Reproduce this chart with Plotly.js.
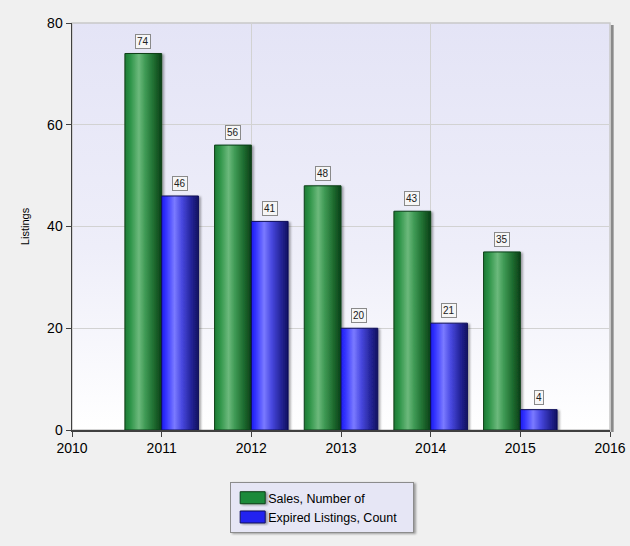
<!DOCTYPE html>
<html>
<head>
<meta charset="utf-8">
<script src="https://cdn.plot.ly/plotly-3.0.1.min.js"></script>
<style>
html,body{margin:0;padding:0;background:#f0f0f0;}
#chart{width:630px;height:546px;}
</style>
</head>
<body>
<div id="chart"></div>
<script>
const years = [2011, 2012, 2013, 2014, 2015];
const salesValues = [74, 56, 48, 43, 35];
const expiredValues = [46, 41, 20, 21, 4];
const seriesNames = ["Sales, Number of", "Expired Listings, Count"];
const xTickValues = [2010, 2011, 2012, 2013, 2014, 2015, 2016];
const xGridValues = [2012, 2014];
const yTickValues = [0, 20, 40, 60, 80];

const FONT = "Liberation Sans, Arial, sans-serif";

const traces = [
  {type: "scatter", mode: "markers", x: xGridValues, y: xGridValues.map(() => 0),
   xaxis: "x2", yaxis: "y", marker: {opacity: 0, size: 1}, showlegend: false, hoverinfo: "none"},
  {type: "bar", name: seriesNames[0], x: years, y: salesValues,
   marker: {color: "#1a8a3a", line: {color: "#0b3f18", width: 1}}, hoverinfo: "none"},
  {type: "bar", name: seriesNames[1], x: years, y: expiredValues,
   marker: {color: "#2323f0", line: {color: "#10105a", width: 1}}, hoverinfo: "none"}
];

const annotations = [];
years.forEach((yr, i) => {
  [[salesValues, -0.205], [expiredValues, 0.205]].forEach(([arr, off]) => {
    annotations.push({
      x: yr + off, y: arr[i], xref: "x", yref: "y",
      text: String(arr[i]), showarrow: false, yanchor: "bottom", yshift: 5,
      font: {family: FONT, size: 10, color: "#202020"},
      bgcolor: "#f6f6f6", bordercolor: "#8a8a8a", borderwidth: 1, borderpad: 1
    });
  });
});

const layout = {
  width: 630, height: 546,
  margin: {l: 72, r: 20, t: 23, b: 116},
  paper_bgcolor: "#f0f0f0",
  plot_bgcolor: "rgba(0,0,0,0)",
  barmode: "group", bargap: 0.18, bargroupgap: 0,
  font: {family: FONT, size: 14, color: "#000"},
  xaxis: {
    range: [2010, 2016], tickvals: xTickValues, ticktext: xTickValues.map(String),
    showgrid: false,
    showline: true, linecolor: "#404040", linewidth: 1.5,
    ticks: "outside", ticklen: 5, tickcolor: "#404040",
    tickfont: {family: FONT, size: 14}, zeroline: false, fixedrange: true
  },
  xaxis2: {
    overlaying: "x", range: [2010, 2016], tickvals: xGridValues,
    showgrid: true, gridcolor: "#d2d2d2", gridwidth: 1,
    showticklabels: false, ticks: "", showline: false, zeroline: false
  },
  yaxis: {
    range: [0, 80], tickvals: yTickValues,
    showgrid: true, gridcolor: "#d2d2d2", gridwidth: 1,
    showline: true, linecolor: "#404040", linewidth: 1.5,
    ticks: "outside", ticklen: 5, tickcolor: "#404040",
    tickfont: {family: FONT, size: 14}, zeroline: false,
    title: {text: "Listings", font: {family: FONT, size: 11}, standoff: 15}
  },
  showlegend: true,
  legend: {
    x: 0.294, y: -0.128, xanchor: "left", yanchor: "top",
    bgcolor: "#e6e6f5", bordercolor: "#8c8c8c", borderwidth: 1,
    font: {family: FONT, size: 12.5}, traceorder: "normal",
    itemwidth: 30, tracegroupgap: 0
  },
  shapes: [
    {type: "line", xref: "paper", yref: "paper", x0: 1.004, x1: 1.004, y0: -0.005, y1: 0.995,
     line: {color: "#8a8a8a", width: 3}, layer: "below"},
    {type: "rect", xref: "paper", yref: "paper", x0: 0, x1: 1, y0: 0, y1: 1,
     line: {color: "#c8c8c8", width: 1.5}, layer: "below"}
  ],
  annotations: annotations
};

Plotly.newPlot("chart", traces, layout, {displayModeBar: false, staticPlot: true}).then(gd => {
  const svg = gd.querySelector("svg.main-svg");
  const ns = "http://www.w3.org/2000/svg";
  let defs = svg.querySelector("defs");
  if (!defs) { defs = document.createElementNS(ns, "defs"); svg.insertBefore(defs, svg.firstChild); }
  function grad(id, stops, vertical) {
    const g = document.createElementNS(ns, "linearGradient");
    g.setAttribute("id", id);
    g.setAttribute("x1", "0"); g.setAttribute("y1", "0");
    g.setAttribute("x2", vertical ? "0" : "1"); g.setAttribute("y2", vertical ? "1" : "0");
    stops.forEach(([o, c]) => {
      const s = document.createElementNS(ns, "stop");
      s.setAttribute("offset", o); s.setAttribute("stop-color", c);
      g.appendChild(s);
    });
    defs.appendChild(g);
  }
  grad("gGreen", [[0, "#1c7a34"], [0.15, "#2e9448"], [0.38, "#6cb97c"], [0.55, "#3f9a55"], [0.8, "#1d6a2e"], [1, "#0b3f18"]]);
  grad("gBlue", [[0, "#1c1cf0"], [0.12, "#3434ff"], [0.35, "#7a7aff"], [0.55, "#4848e0"], [0.8, "#25259a"], [1, "#121260"]]);
  grad("gBg", [[0, "#e4e4f6"], [0.55, "#eeeef9"], [1, "#ffffff"]], true);

  const f = document.createElementNS(ns, "filter");
  f.setAttribute("id", "shadow"); f.setAttribute("x", "-20%"); f.setAttribute("y", "-10%");
  f.setAttribute("width", "150%"); f.setAttribute("height", "130%");
  f.innerHTML = '<feDropShadow dx="2" dy="1" stdDeviation="1" flood-color="#000" flood-opacity="0.35"/>';
  defs.appendChild(f);

  const bg = gd.querySelector(".bglayer rect.bg");
  if (bg) { bg.style.fill = "url(#gBg)"; bg.style.fillOpacity = 1; }
  const bars = gd.querySelectorAll(".barlayer .trace.bars");
  bars.forEach((t, i) => {
    t.querySelectorAll("path").forEach(p => {
      p.style.fill = i === 0 ? "url(#gGreen)" : "url(#gBlue)";
      p.style.filter = "url(#shadow)";
    });
  });
  const leg = gd.querySelector(".legend rect.bg");
  if (leg) {
    leg.style.filter = "url(#shadow)";
    leg.setAttribute("width", "183");
  }
  gd.querySelectorAll(".legend .traces").forEach(tr => {
    tr.querySelectorAll(".legendpoints path").forEach(p => {
      p.setAttribute("d", "M-11,6V-6H14V6Z");
      p.style.filter = "url(#shadow)";
    });
    const txt = tr.querySelector("text.legendtext");
    if (txt) txt.setAttribute("x", "37");
  });
});
</script>
</body>
</html>
